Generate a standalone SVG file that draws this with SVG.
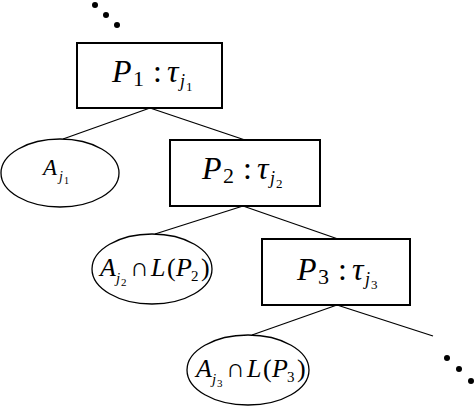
<svg xmlns="http://www.w3.org/2000/svg" width="474" height="406" viewBox="0 0 474 406">
<style>
.box{fill:#fff;stroke:#000;stroke-width:2}
.ell{fill:#fff;stroke:#000;stroke-width:1.3}
.ln{stroke:#000;stroke-width:1.3;fill:none}
.dot{fill:#000}
.t{font-family:"Liberation Serif","DejaVu Serif",serif;fill:#000}
.i{font-style:italic}
.big{font-size:32px}
.sm{font-size:26px}
</style>
<g id="connectors">
<line class="ln" x1="150" y1="108" x2="63" y2="139"/>
<line class="ln" x1="150" y1="108" x2="245" y2="140"/>
<line class="ln" x1="243" y1="206" x2="155" y2="234"/>
<line class="ln" x1="243" y1="206" x2="338" y2="239"/>
<line class="ln" x1="337" y1="305" x2="252" y2="335"/>
<line class="ln" x1="337" y1="305" x2="433" y2="336"/>
</g>
<g id="dots-top">
<circle class="dot" cx="95" cy="5" r="3"/>
<circle class="dot" cx="106" cy="15" r="3"/>
<circle class="dot" cx="117" cy="25" r="3"/>
</g>
<g id="dots-bottom">
<circle class="dot" cx="447" cy="358" r="3"/>
<circle class="dot" cx="459" cy="369" r="3"/>
<circle class="dot" cx="471" cy="381" r="3"/>
</g>
<g id="P1">
<rect class="box" x="77" y="43" width="145" height="65"/>
<text class="t big" y="82"><tspan class="i" x="112">P</tspan><tspan font-size="22" x="133" y="86">1</tspan><tspan x="153" y="82">:</tspan><tspan class="i" x="167">τ</tspan><tspan class="i" font-size="18" x="180" y="87">j</tspan><tspan font-size="13" x="186" y="91">1</tspan></text>
</g>
<g id="Aj1">
<ellipse class="ell" cx="60" cy="173" rx="59" ry="34"/>
<text class="t" font-size="23" y="175"><tspan class="i" x="43">A</tspan><tspan class="i" font-size="14" x="59" y="181">j</tspan><tspan font-size="10" x="64" y="184">1</tspan></text>
</g>
<g id="P2">
<rect class="box" x="170" y="140" width="150" height="66"/>
<text class="t big" y="179"><tspan class="i" x="202">P</tspan><tspan font-size="22" x="223" y="183">2</tspan><tspan x="243" y="179">:</tspan><tspan class="i" x="257">τ</tspan><tspan class="i" font-size="18" x="270" y="184">j</tspan><tspan font-size="13" x="276" y="188">2</tspan></text>
</g>
<g id="Aj2">
<ellipse class="ell" cx="152" cy="269" rx="60" ry="35"/>
<text class="t sm" y="276"><tspan class="i" x="100">A</tspan><tspan class="i" font-size="15" x="116" y="283">j</tspan><tspan font-size="11" x="121" y="286">2</tspan><tspan font-size="26" x="130" y="276">∩</tspan><tspan class="i" x="151">L</tspan><tspan x="167">(</tspan><tspan class="i" x="176">P</tspan><tspan font-size="15" x="191" y="281">2</tspan><tspan x="201" y="276">)</tspan></text>
</g>
<g id="P3">
<rect class="box" x="262" y="239" width="148" height="66"/>
<text class="t big" y="280"><tspan class="i" x="297">P</tspan><tspan font-size="22" x="318" y="284">3</tspan><tspan x="338" y="280">:</tspan><tspan class="i" x="352">τ</tspan><tspan class="i" font-size="18" x="365" y="285">j</tspan><tspan font-size="13" x="371" y="289">3</tspan></text>
</g>
<g id="Aj3">
<ellipse class="ell" cx="248" cy="370" rx="61" ry="35"/>
<text class="t sm" y="377"><tspan class="i" x="196">A</tspan><tspan class="i" font-size="15" x="212" y="384">j</tspan><tspan font-size="11" x="217" y="387">3</tspan><tspan font-size="26" x="226" y="377">∩</tspan><tspan class="i" x="247">L</tspan><tspan x="263">(</tspan><tspan class="i" x="272">P</tspan><tspan font-size="15" x="287" y="382">3</tspan><tspan x="297" y="377">)</tspan></text>
</g>
</svg>
